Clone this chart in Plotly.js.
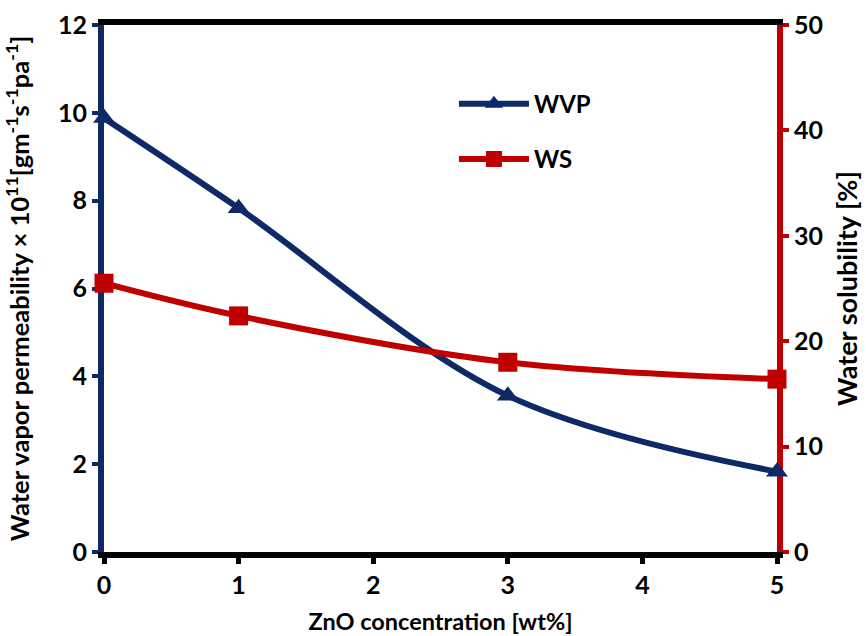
<!DOCTYPE html>
<html>
<head>
<meta charset="utf-8">
<script src="https://cdn.plot.ly/plotly-3.0.1.min.js"></script>
<style>html,body{margin:0;padding:0;background:#fff;}</style>
</head>
<body>
<div id="chart" style="width:866px;height:636px;"></div>
<script>
const znoConc = [0, 1, 3, 5];
const wvpValues = [9.88, 7.83, 3.56, 1.83];
const wsValues = [25.5, 22.4, 18.0, 16.4];
const xTicks = [0, 1, 2, 3, 4, 5];

const navy = '#0d2a66';
const red = '#c00000';
const fontFam = 'Lato, "Open Sans", sans-serif';

const traces = [
  {
    x: znoConc, y: wvpValues, name: 'WVP', type: 'scatter', mode: 'lines+markers',
    line: {color: navy, width: 6, shape: 'spline', smoothing: 1},
    marker: {symbol: 'triangle-up', size: 19, color: navy},
    cliponaxis: false, yaxis: 'y', legend: 'legend'
  },
  {
    x: znoConc, y: wsValues, name: 'WS', type: 'scatter', mode: 'lines+markers',
    line: {color: red, width: 6, shape: 'spline', smoothing: 1},
    marker: {symbol: 'square', size: 19, color: red},
    cliponaxis: false, yaxis: 'y2', legend: 'legend2'
  }
];

const tickFont = {family: fontFam, size: 25, color: '#000', weight: 700};
const legFont = {family: fontFam, size: 24, color: '#000', weight: 700};

const layout = {
  width: 866, height: 636,
  margin: {l: 104, r: 89, t: 25, b: 84},
  paper_bgcolor: '#fff', plot_bgcolor: '#fff',
  showlegend: true,
  xaxis: {
    range: [0, 5], tickvals: xTicks, ticktext: xTicks.map(String),
    showgrid: false, zeroline: false,
    showline: true, linecolor: '#000', linewidth: 6, mirror: true,
    ticks: 'outside', ticklen: 6, tickwidth: 5, tickcolor: '#000',
    tickfont: tickFont, layer: 'below traces',
    title: {text: 'ZnO concentration [wt%]', font: {family: fontFam, size: 23.5, color: '#000', weight: 700}, standoff: 18}
  },
  yaxis: {
    range: [0, 12], dtick: 2, showgrid: false, zeroline: false,
    showline: true, linecolor: navy, linewidth: 6,
    ticks: 'outside', ticklen: 6, tickwidth: 4, tickcolor: navy,
    tickfont: tickFont, layer: 'below traces',
    title: {text: 'Water vapor permeability × 10<sup>11</sup>[gm<sup>-1</sup>s<sup>-1</sup>pa<sup>-1</sup>]', font: {family: fontFam, size: 25.5, color: '#000', weight: 700}, standoff: 26}
  },
  yaxis2: {
    range: [0, 50], dtick: 10, overlaying: 'y', side: 'right',
    showgrid: false, zeroline: false,
    showline: true, linecolor: red, linewidth: 6,
    ticks: 'outside', ticklen: 6, tickwidth: 4, tickcolor: red,
    tickfont: tickFont, layer: 'below traces',
    title: {text: 'Water solubility [%]', font: {family: fontFam, size: 27, color: '#000', weight: 700}, standoff: 18}
  },
  legend: {
    x: 0.52, y: 0.85, xanchor: 'left', yanchor: 'middle', itemwidth: 70,
    bgcolor: 'rgba(0,0,0,0)', font: legFont
  },
  legend2: {
    x: 0.52, y: 0.745, xanchor: 'left', yanchor: 'middle', itemwidth: 70,
    bgcolor: 'rgba(0,0,0,0)', font: legFont
  }
};

Plotly.newPlot('chart', traces, layout, {displayModeBar: false, staticPlot: true});
</script>
</body>
</html>
